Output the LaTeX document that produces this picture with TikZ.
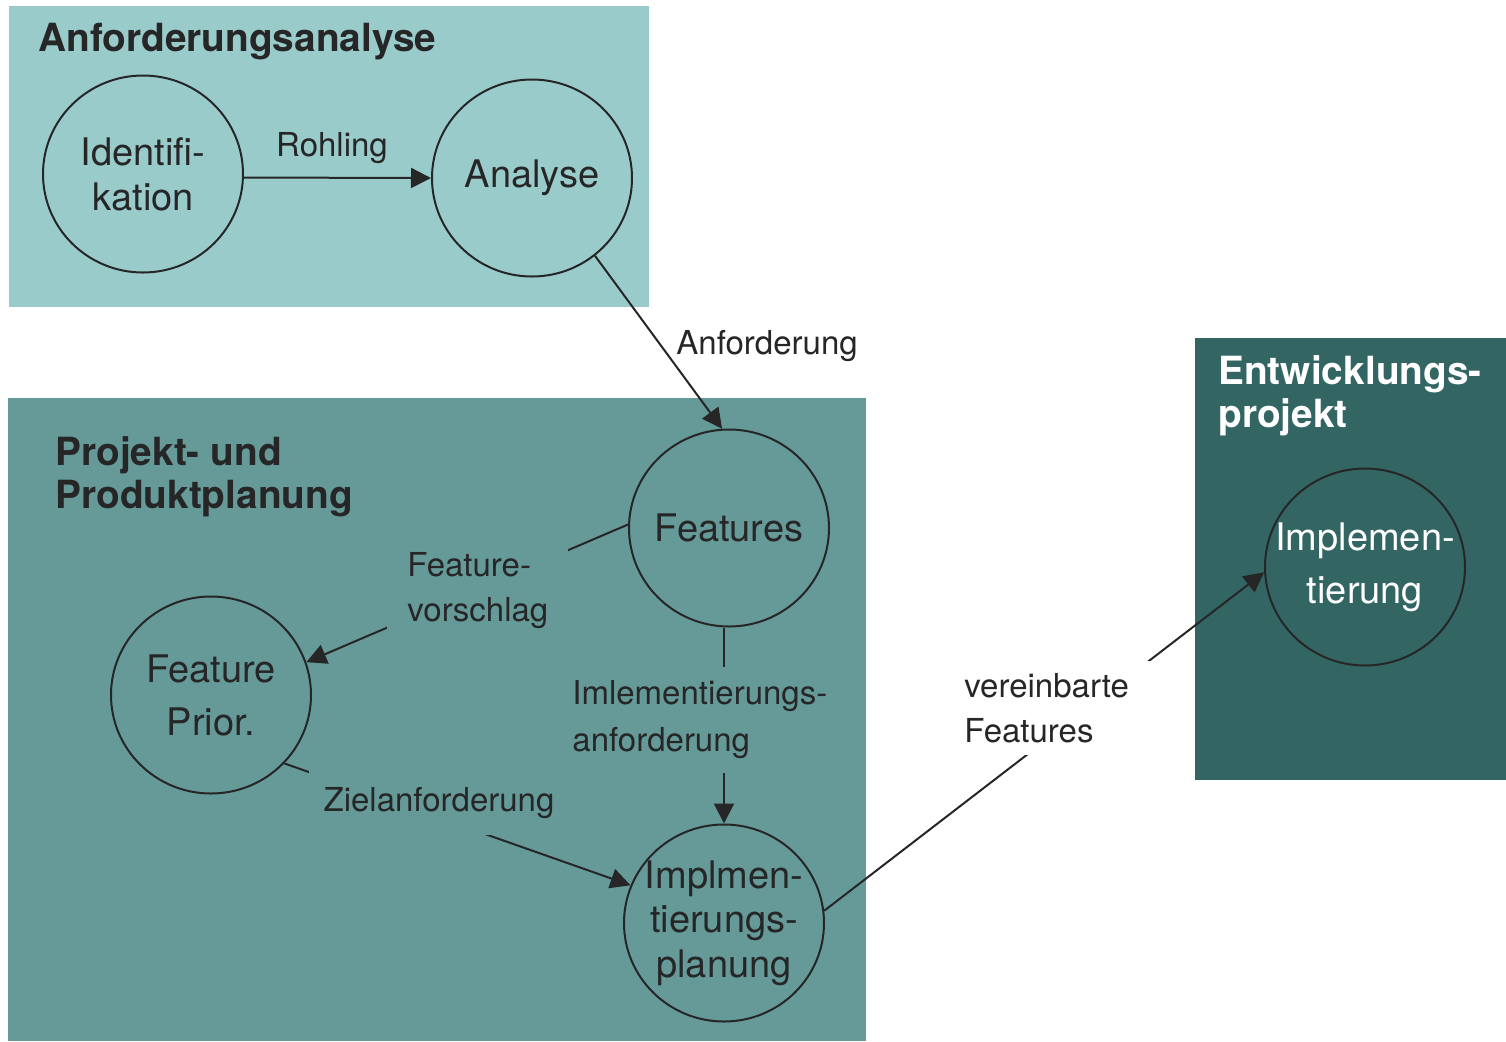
\documentclass[tikz,border=0pt]{standalone}
\usepackage{fontspec}
\setmainfont{TeX Gyre Heros}
\usetikzlibrary{shapes.geometric,arrows.meta}
\definecolor{boxA}{HTML}{9ACBCB}
\definecolor{boxB}{HTML}{659A99}
\definecolor{boxC}{HTML}{336663}
\definecolor{ink}{HTML}{262626}
\begin{document}
\begin{tikzpicture}[x=0.5pt,y=-0.5pt,
  proc/.style={ellipse,draw=ink,line width=1pt,minimum width=100pt,minimum height=98.5pt,inner sep=-30pt,align=center,text=ink},
  lbl/.style={text=ink,align=left,inner sep=0pt},
  grouptitle/.style={font=\bfseries\fontsize{19.4}{21.5}\selectfont,text=ink,align=left,inner sep=0pt,anchor=west},
  flow/.style={draw=ink,line width=1pt,-{Triangle[length=10pt,width=10pt]}}]
\useasboundingbox (0,0) rectangle (1506,1041);
% group boxes
\fill[boxA] (9,6) rectangle (649,307);
\fill[boxB] (8,398) rectangle (866,1041);
\fill[boxC] (1195,338) rectangle (1506,780);
% titles
\node[grouptitle] (t1) at (38,42) {Anforderungsanalyse};
\node[grouptitle] (t2) at (55,477) {Projekt- und\\Produktplanung};
\node[grouptitle,text=white] (t3) at (1218,396) {Entwicklungs-\\projekt};
% process circles
\node[proc,font=\fontsize{19}{22.5}\selectfont] (ident) at (143,174) {Identifi-\\kation};
\node[proc,font=\fontsize{19}{22.5}\selectfont] (ana) at (532,178) {Analyse};
\node[proc,font=\fontsize{19}{22.5}\selectfont] (feat) at (729,528) {Features};
\node[proc,font=\fontsize{19}{26.5}\selectfont] (fprior) at (211,695) {Feature\\Prior.};
\node[proc,font=\fontsize{19}{22.25}\selectfont] (plan) at (724,923) {Implmen-\\tierungs-\\planung};
\node[proc,font=\fontsize{19}{26.5}\selectfont,text=white] (impl) at (1365,567) {Implemen-\\tierung};
% connectors
\draw[flow] (ident.-2) -- (ana.west);
\draw[flow] (ana.-51) -- (feat.94);
\draw[flow] (feat.178) -- (fprior.19);
\draw[flow] (plan.north |- feat.south) -- (plan.north);
\draw[flow] (fprior.-43) -- (plan.158);
\draw[flow] (plan.7.5) -- (impl.183.5);
% connector labels
\node[lbl,font=\fontsize{16.5}{22.5}\selectfont] (lRohling) at (332,148) {Rohling};
\node[lbl,font=\fontsize{16.5}{22.5}\selectfont,anchor=west] (lAnf) at (676,346) {Anforderung};
\node[lbl,font=\fontsize{16.5}{22.5}\selectfont,anchor=west,fill=boxB,inner xsep=10pt,inner ysep=3pt] (lVor) at (387,591) {Feature-\\vorschlag};
\node[lbl,font=\fontsize{16.5}{23.5}\selectfont,anchor=west,fill=boxB,inner xsep=2pt,inner ysep=7pt] (lImpl) at (568,720) {Imlementierungs-\\anforderung};
\node[lbl,font=\fontsize{16.5}{22.5}\selectfont,fill=boxB,inner xsep=7.5pt,inner ysep=8pt] (lZiel) at (439,803) {Zielanforderung};
\node[lbl,font=\fontsize{16.5}{22.5}\selectfont,anchor=west,fill=white,inner xsep=18pt,inner ysep=6pt] (lVer) at (928,708) {vereinbarte\\Features};
\end{tikzpicture}
\end{document}
